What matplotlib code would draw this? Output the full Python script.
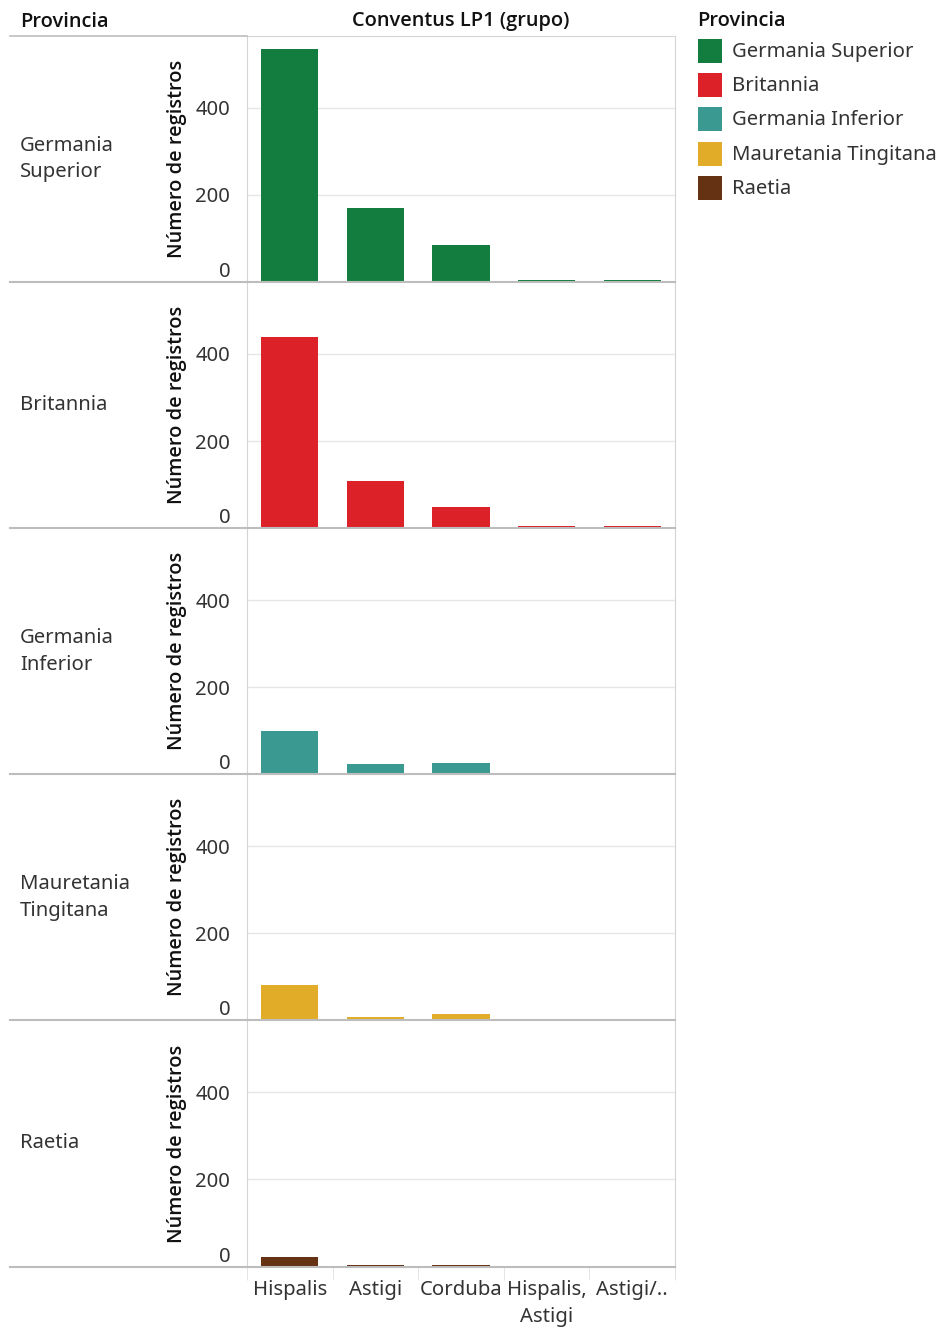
import numpy as np
import matplotlib.pyplot as plt
from matplotlib.patches import Rectangle
from matplotlib.lines import Line2D

plt.rcParams['font.family'] = ['Noto Sans', 'DejaVu Sans']

#*--datos-----------------------------------------------------------------
provincias = ["Germania Superior", "Britannia", "Germania Inferior",
              "Mauretania Tingitana", "Raetia"]
etiquetas_filas = ["Germania\nSuperior", "Britannia", "Germania\nInferior",
                   "Mauretania\nTingitana", "Raetia"]
conventus = ["Hispalis", "Astigi", "Corduba", "Hispalis,\nAstigi", "Astigi/.."]
colores = ["#127d3e", "#dc2129", "#3a9990", "#e1ad29", "#653214"]

reg_germ_sup = [536, 170, 85, 4, 4]
reg_britannia = [439, 109, 49, 4, 4]
reg_germ_inf = [99, 23, 27, 3, 0]
reg_mauretania = [81, 7, 15, 0, 0]
reg_raetia = [22, 3, 3, 0, 0]
registros = [reg_germ_sup, reg_britannia, reg_germ_inf, reg_mauretania, reg_raetia]
#*-----------------------------------------------------------------------

W, H = 946, 1328
fig = plt.figure(figsize=(W / 100, H / 100), dpi=100)

def fx(px):
    return px / W

def fy(py):
    return 1 - py / H

fs = 14.6
gris_linea = "#bdbdbd"
gris_borde = "#d4d4d4"
texto = "#333333"
negro = "#111111"
# cabeceras un poco mas gruesas
cab = dict(family=['Open Sans', 'Noto Sans', 'DejaVu Sans'], fontweight='semibold',
           fontsize=14.4, color=negro)

x_izq, x_der = 247, 675
y_top = 36
alto_fila = 246.1

# fila de cabecera
fig.text(fx(20), fy(22), "Provincia", va='center', ha='left', **cab)
fig.text(fx((x_izq + x_der) / 2), fy(21), "Conventus LP1 (grupo)",
         va='center', ha='center', **cab)
fig.add_artist(Line2D([fx(10), fx(x_izq)], [fy(y_top), fy(y_top)],
                      color=gris_linea, lw=1.2))

x = np.arange(len(conventus))
for i, (prov, vals) in enumerate(zip(provincias, registros)):
    top = y_top + i * alto_fila
    bot = top + alto_fila
    ax = fig.add_axes([fx(x_izq), fy(bot), fx(x_der - x_izq), (bot - top) / H])
    ax.bar(x, vals, width=0.67, color=colores[i])
    ax.set_xlim(-0.5, len(conventus) - 0.5)
    ax.set_ylim(0, 565)
    ax.set_yticks([0, 200, 400])
    ax.tick_params(axis='y', length=0, labelsize=fs, labelcolor=texto, pad=12)
    # la etiqueta 0 va por encima de la linea base
    ax.get_yticklabels()[0].set_va('bottom')
    ax.grid(axis='y', color="#e6e6e6", lw=1)
    ax.set_axisbelow(True)
    for s in ['top', 'bottom']:
        ax.spines[s].set_visible(False)
    ax.spines['left'].set_color(gris_borde)
    ax.spines['right'].set_color(gris_borde)
    if i == 0:
        ax.spines['top'].set_visible(True)
        ax.spines['top'].set_color(gris_borde)
    ax.set_ylabel("Número de registros", labelpad=6, **cab)
    if i < len(provincias) - 1:
        ax.set_xticks([])
    else:
        ax.set_xticks(x)
        ax.set_xticklabels(conventus, fontsize=fs, color=texto, linespacing=1.45)
        ax.tick_params(axis='x', length=0, pad=10)
        ax.set_xticks(np.arange(len(conventus) + 1) - 0.5, minor=True)
        ax.tick_params(axis='x', which='minor', length=9, color="#e0e0e0")
    # linea separadora de fila
    fig.add_artist(Line2D([fx(10), fx(x_der)], [fy(bot), fy(bot)],
                          color=gris_linea, lw=1.5))
    fig.text(fx(20), fy((top + bot) / 2), etiquetas_filas[i], fontsize=fs,
             color=texto, va='center', ha='left', linespacing=1.45)

# leyenda
fig.text(fx(697), fy(21), "Provincia", va='center', ha='left', **cab)
for i, prov in enumerate(provincias):
    yc = 51 + i * 34.2
    fig.add_artist(Rectangle((fx(698), fy(yc + 12)), fx(24), 24 / H,
                             facecolor=colores[i], edgecolor='none'))
    fig.text(fx(732), fy(yc + 1), prov, fontsize=fs, color=texto,
             va='center', ha='left')

plt.savefig("out.png", dpi=100)
